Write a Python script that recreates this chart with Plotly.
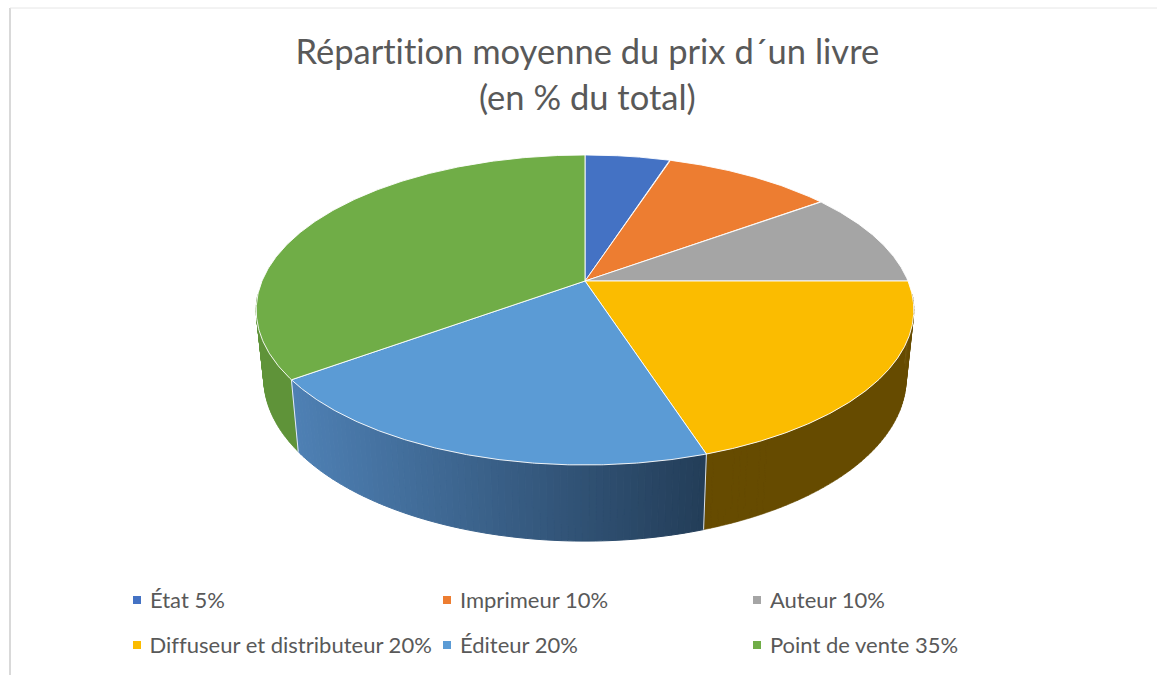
import numpy as np
import plotly.graph_objects as go

# Data
categories = ["État", "Imprimeur", "Auteur", "Diffuseur et distributeur", "Éditeur", "Point de vente"]
values = [5, 10, 10, 20, 20, 35]
title_lines = ["Répartition moyenne du prix d´un livre", "(en % du total)"]
top_colors = ["#4472c4", "#ed7d31", "#a5a5a5", "#fbbc00", "#5b9bd5", "#70ad47"]
side_colors = ["#2d4c83", "#9e5321", "#6e6e6e", "#664b00", None, "#5f9339"]
W, H = 1157, 675
FONT = "Lato"
TEXT = "#595959"

# Projection of the disc: (rim centre y, half width, half depth) for top and base planes
CX = 585
TOP = (281, 323, 149.6)
BASE = (348, 315.5, 157)
K = 0.187
# Only the front of the wall can be seen
FRONT_FROM, FRONT_TO = np.deg2rad(95), np.deg2rad(265)


def rim(theta, plane):
    cy, a, b = plane
    w = 1 + K * np.cos(theta)
    return CX + a * np.sin(theta) / w, cy - b * np.cos(theta) / w


def lerp(c0, c1, t):
    return "rgb(%d,%d,%d)" % tuple(round(c0[i] + (c1[i] - c0[i]) * t) for i in range(3))


fig = go.Figure()
edges = np.cumsum([0] + values) / sum(values) * 2 * np.pi


def poly(x, y, fill, line="rgba(0,0,0,0)", width=0, name=None):
    fig.add_trace(go.Scatter(x=x, y=y, mode="lines", fill="toself", fillcolor=fill, name=name,
                             line=dict(color=line, width=width), hoverinfo="skip", showlegend=False))


def strip(t0, t1):
    tt = np.linspace(t0, t1, 4)
    xt, yt = rim(tt, TOP)
    xb, yb = rim(tt[::-1], BASE)
    return np.r_[xt, xb, xt[0]], np.r_[yt, yb, yt[0]]


# Sides, as thin strips so the outline follows the tangent between the rims
for i in [5, 3, 4]:
    t0, t1 = max(edges[i], FRONT_FROM), min(edges[i + 1], FRONT_TO)
    if t1 <= t0:
        continue
    n = 70 if side_colors[i] is None else 60
    ts = np.linspace(t0, t1, n + 1)
    if side_colors[i] is None:
        for j in range(n):
            sx, sy = strip(ts[j], ts[j + 1])
            # gradient runs with x: light on the left, dark on the right
            frac = (sx[:4].mean() - 292) / (707 - 292)
            col = lerp((78, 128, 180), (35, 61, 88), frac)
            poly(sx, sy, col, col, 1, categories[i])
    else:
        px, py = [], []
        for j in range(n):
            sx, sy = strip(ts[j], ts[j + 1])
            px += list(sx) + [None]
            py += list(sy) + [None]
        poly(px, py, side_colors[i], side_colors[i], 0.6, categories[i])

# White edges between the visible sides
for e in (edges[4], edges[5]):
    xt, yt = rim(np.array([e]), TOP)
    xb, yb = rim(np.array([e]), BASE)
    fig.add_trace(go.Scatter(x=[xt[0], xb[0]], y=[yt[0], yb[0]], mode="lines",
                             line=dict(color="rgba(255,255,255,0.85)", width=1),
                             hoverinfo="skip", showlegend=False))

# Top face
for i in range(len(values)):
    t = np.linspace(edges[i], edges[i + 1], 240)
    x, y = rim(t, TOP)
    poly(np.r_[CX, x, CX], np.r_[TOP[0], y, TOP[0]], top_colors[i], "rgba(255,255,255,0.9)", 1, categories[i])

# Legend
col_x = [137, 447, 757]
row_y = [600, 645]
annotations = []
for i, (c, v) in enumerate(zip(categories, values)):
    mx, my = col_x[i % 3], row_y[i // 3]
    fig.add_trace(go.Scatter(x=[mx], y=[my], mode="markers", name=c, showlegend=False, hoverinfo="skip",
                             marker=dict(symbol="square", size=8, color=top_colors[i], line=dict(width=0))))
    annotations.append(dict(x=mx + 10.5, y=my - 1, xref="x", yref="y", text=f"{c} {v}%", showarrow=False,
                            xanchor="left", yanchor="middle",
                            font=dict(family=FONT, size=22, color=TEXT)))

# Title
for line, y in zip(title_lines, [50, 96]):
    annotations.append(dict(x=587, y=y, xref="x", yref="y", text=line, showarrow=False,
                            xanchor="center", yanchor="middle",
                            font=dict(family=FONT, size=34.5, color=TEXT)))

axis = dict(visible=False, fixedrange=True)
fig.update_layout(
    width=W, height=H, margin=dict(l=0, r=0, t=0, b=0),
    paper_bgcolor="white", plot_bgcolor="white", showlegend=False,
    xaxis=dict(range=[0, W], **axis), yaxis=dict(range=[H, 0], **axis),
    annotations=annotations,
    shapes=[
        dict(type="line", xref="x", yref="y", x0=10, x1=10, y0=8, y1=H, line=dict(color="#d9d9d9", width=2)),
        dict(type="line", xref="x", yref="y", x0=10, x1=W, y0=8, y1=8, line=dict(color="#e6e6e6", width=1)),
    ],
)
page_css = (
    "document.body.style.margin='0';document.body.style.overflow='hidden';"
    "var s=document.createElement('style');"
    "s.textContent='text{font-variant-ligatures:none !important;font-feature-settings:\"liga\" 0,\"clig\" 0 !important;"
    "letter-spacing:0.01px !important}';"
    "document.head.appendChild(s);"
)
fig.write_html("out.html", post_script=page_css, config=dict(displayModeBar=False))
